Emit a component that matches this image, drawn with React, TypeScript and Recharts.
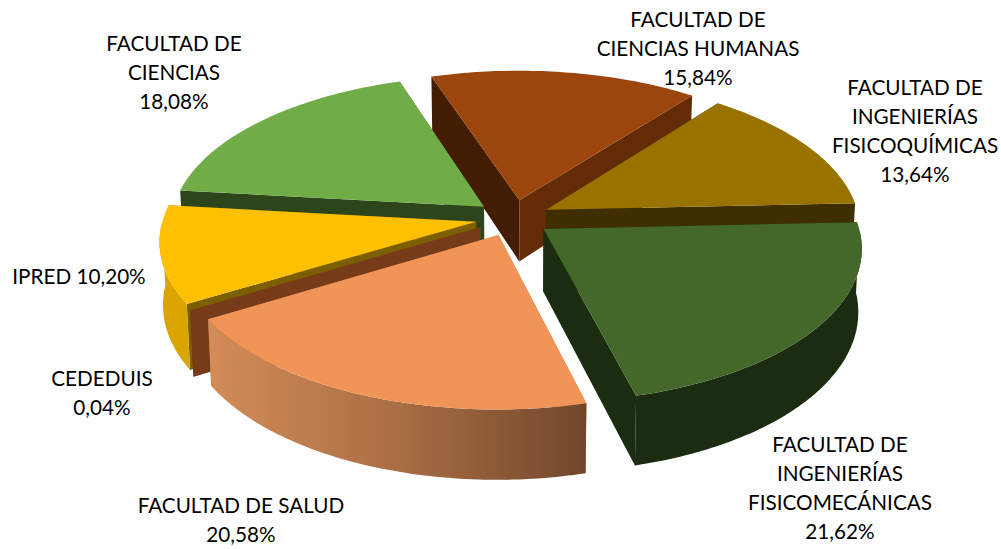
import React from 'react';
import { PieChart, Pie } from 'recharts';

// chart values
const categories = [
  'FACULTAD DE INGENIERÍAS FISICOMECÁNICAS',
  'FACULTAD DE SALUD',
  'CEDEDUIS',
  'IPRED',
  'FACULTAD DE CIENCIAS',
  'FACULTAD DE CIENCIAS HUMANAS',
  'FACULTAD DE INGENIERÍAS FISICOQUÍMICAS',
];
const shares = [21.62, 20.58, 0.04, 10.2, 18.08, 15.84, 13.64];

// label text split the way the reference wraps it
const labelRows = [
  ['FACULTAD DE', 'INGENIERÍAS', 'FISICOMECÁNICAS'],
  ['FACULTAD DE SALUD'],
  ['CEDEDUIS'],
  ['IPRED'],
  ['FACULTAD DE', 'CIENCIAS'],
  ['FACULTAD DE', 'CIENCIAS HUMANAS'],
  ['FACULTAD DE', 'INGENIERÍAS', 'FISICOQUÍMICAS'],
];

const tableData = categories.map((name, i) => ({ name, value: shares[i] }));

// back to front
const paintOrder = [5, 6, 0, 4, 3, 2, 1];

const sliceStyles = [
  { top: '#436829', rim: '#1C2C10', wallStart: '#1C2C10', wallEnd: '#1C2C10' },
  { top: '#F09458', rim: 'url(#peachRim)', wallStart: '#B87040', wallEnd: '#B87040' },
  { top: '#8A4A1E', rim: '#733A17', wallStart: '#763B18', wallEnd: '#763B18' },
  { top: '#FFC000', rim: '#DBA500', wallStart: '#7C5F00', wallEnd: '#7C5F00' },
  { top: '#70AD47', rim: '#2C451B', wallStart: '#2C451B', wallEnd: '#2C451B' },
  { top: '#9C450C', rim: '#632C07', wallStart: '#421C03', wallEnd: '#632C07' },
  { top: '#997300', rim: '#3F2F00', wallStart: '#3F2F00', wallEnd: '#3F2F00' },
];

const labelBoxes = [
  { x: 840, y: 445 },
  { x: 241, y: 506 },
  { x: 102, y: 379 },
  { x: 79, y: 277 },
  { x: 174, y: 44 },
  { x: 698, y: 20 },
  { x: 915, y: 88 },
];

const LINE_H = 29;
const SQUASH = 0.486; // vertical/horizontal radius of the tilted disc
const PERSP = 0.12;
const EXPLODE = 0.12;
const DEPTH = 62;
const rad = (d: number) => (d * Math.PI) / 180;

const Slice3D = ({ cx, cy, outerRadius, startAngle, endAngle, style }: any) => {
  const rx = outerRadius;
  const ry = outerRadius * SQUASH;
  const t0 = -startAngle;
  const t1 = -endAngle;
  const mid = rad((t0 + t1) / 2);
  const du = EXPLODE * Math.cos(mid);
  const dv = EXPLODE * Math.sin(mid);

  const project = (u: number, v: number, low: boolean) => {
    const s = 1 + PERSP * (v + dv);
    const k = low ? 0.99 : 1;
    return [
      cx + rx * (u + du) * s * k,
      cy + ry * (v + dv) * s + (low ? DEPTH * s : 0),
    ];
  };
  const arc = (low: boolean, frontOnly: boolean) => {
    const pts: number[][] = [];
    const n = Math.max(2, Math.ceil(t1 - t0));
    for (let i = 0; i <= n; i++) {
      const t = rad(t0 + ((t1 - t0) * i) / n);
      // the far side of the rim faces away from the viewer
      if (frontOnly && Math.sin(t) < 0) continue;
      pts.push(project(Math.cos(t), Math.sin(t), low));
    }
    return pts;
  };
  const toPath = (pts: number[][]) =>
    pts.map((p, i) => `${i ? 'L' : 'M'}${p[0].toFixed(1)} ${p[1].toFixed(1)}`).join(' ') + ' Z';

  const topArc = arc(false, false);
  const lowArc = arc(true, false);
  const rimTop = arc(false, true);
  const rimLow = arc(true, true);
  const apex = project(0, 0, false);
  const apexLow = project(0, 0, true);
  const last = topArc.length - 1;

  return (
    <g>
      <defs>
        <linearGradient id="peachRim" x1="0" y1="0" x2="1" y2="0">
          <stop offset="0%" stopColor="#D48C58" />
          <stop offset="50%" stopColor="#A96E43" />
          <stop offset="100%" stopColor="#71472C" />
        </linearGradient>
      </defs>
      <path d={toPath([apex, topArc[0], lowArc[0], apexLow])} fill={style.wallStart} />
      <path d={toPath([apex, topArc[last], lowArc[last], apexLow])} fill={style.wallEnd} />
      {rimTop.length > 1 && (
        <path d={toPath([...rimTop, ...[...rimLow].reverse()])} fill={style.rim} />
      )}
      <path d={toPath([apex, ...topArc])} fill={style.top} />
    </g>
  );
};

const percentText = (v: number) => v.toFixed(2).replace('.', ',') + '%';

export default function App() {
  return (
    <div style={{ position: 'absolute', left: 0, top: 0, width: 1001, height: 549, background: '#fff' }}>
      <PieChart width={1001} height={549} margin={{ top: 0, right: 0, bottom: 0, left: 0 }}>
        {paintOrder.map((idx) => (
          <Pie
            key={idx}
            data={tableData}
            dataKey="value"
            nameKey="name"
            cx={513}
            cy={218}
            outerRadius={313}
            startAngle={2.5}
            endAngle={-357.5}
            stroke="none"
            isAnimationActive={false}
            labelLine={false}
            rootTabIndex={-1}
            shape={(props: any) =>
              props.name === categories[idx] ? <Slice3D {...props} style={sliceStyles[idx]} /> : <g />
            }
            label={(props: any) => {
              if (props.name !== categories[idx]) return null;
              const box = labelBoxes[idx];
              const rows =
                idx === 3
                  ? [`${labelRows[idx][0]} ${percentText(shares[idx])}`]
                  : [...labelRows[idx], percentText(shares[idx])];
              return (
                <text
                  key={idx}
                  textAnchor="middle"
                  fontFamily="Lato, Carlito, sans-serif"
                  fontSize={20.7}
                  fill="#000"
                >
                  {rows.map((row, r) => (
                    <tspan key={r} x={box.x} y={box.y + r * LINE_H} dy="0.35em">
                      {row}
                    </tspan>
                  ))}
                </text>
              );
            }}
          />
        ))}
      </PieChart>
    </div>
  );
}
